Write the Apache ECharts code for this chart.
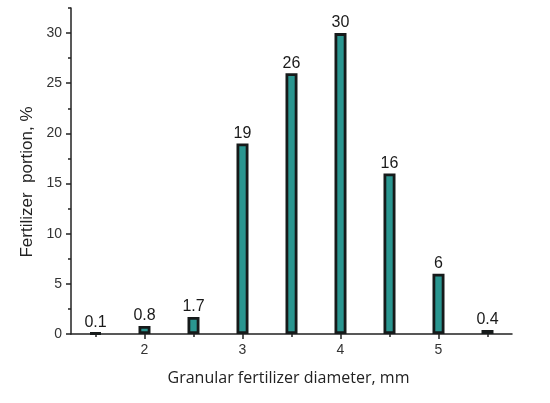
<!DOCTYPE html>
<html>
<head>
<meta charset="utf-8">
<script src="https://cdn.jsdelivr.net/npm/echarts@6/dist/echarts.min.js"></script>
<style>
  html, body { margin: 0; padding: 0; background: #fff; }
  #chart { width: 550px; height: 403px; }
</style>
</head>
<body>
<div id="chart"></div>
<script>
// diameter classes, mm
var diameters = [1.5, 2, 2.5, 3, 3.5, 4, 4.5, 5, 5.5];
// fertilizer portion, %
var portions = [0.1, 0.8, 1.7, 19, 26, 30, 16, 6, 0.4];
var xMajorTicks = [2, 3, 4, 5];
var xMinorTicks = [1.5, 2.5, 3.5, 4.5, 5.5];
var yMajorTicks = [0, 5, 10, 15, 20, 25, 30];
var yMinorTicks = [2.5, 7.5, 12.5, 17.5, 22.5, 27.5, 32.5];

var chart = echarts.init(document.getElementById("chart"));

var axisLine = { show: true, lineStyle: { color: "#222", width: 1.5 } };
var labelFont = { fontFamily: "Liberation Sans", fontSize: 14, color: "#333" };

var option = {
  animation: false,
  grid: { left: 71, right: 38, top: 8, bottom: 69 },
  xAxis: [
    {
      type: "value",
      min: 1.25,
      max: 5.75,
      axisLine: axisLine,
      splitLine: { show: false },
      axisTick: { show: true, length: 5, customValues: xMajorTicks, lineStyle: { color: "#222", width: 1.5 } },
      axisLabel: Object.assign({ customValues: xMajorTicks, margin: 9 }, labelFont),
      name: "Granular fertilizer diameter, mm",
      nameLocation: "middle",
      nameGap: 36,
      nameTextStyle: { fontFamily: "Open Sans", fontSize: 16, color: "#222", padding: [0, 6, 0, 0] }
    },
    {
      type: "value",
      min: 1.25,
      max: 5.75,
      position: "bottom",
      axisLine: { show: false },
      splitLine: { show: false },
      axisTick: { show: true, length: 3, customValues: xMinorTicks, lineStyle: { color: "#222", width: 1.5 } },
      axisLabel: { show: false }
    }
  ],
  yAxis: [
    {
      type: "value",
      min: 0,
      max: 32.5,
      axisLine: axisLine,
      splitLine: { show: false },
      axisTick: { show: true, length: 5, customValues: yMajorTicks, lineStyle: { color: "#222", width: 1.5 } },
      axisLabel: Object.assign({ customValues: yMajorTicks, margin: 9 }, labelFont),
      name: "Fertilizer  portion, %",
      nameLocation: "middle",
      nameGap: 32,
      nameTextStyle: { fontFamily: "Liberation Sans", fontSize: 17, color: "#222", padding: [0, 22, 0, 0] }
    },
    {
      type: "value",
      min: 0,
      max: 32.5,
      position: "left",
      axisLine: { show: false },
      splitLine: { show: false },
      axisTick: { show: true, length: 3, customValues: yMinorTicks, lineStyle: { color: "#222", width: 1.5 } },
      axisLabel: { show: false }
    }
  ],
  series: [
    {
      type: "bar",
      xAxisIndex: 0,
      yAxisIndex: 0,
      barWidth: 12,
      data: diameters.map(function (d, i) { return [d, portions[i]]; }),
      itemStyle: { color: "#2a9690", borderColor: "#161a1a", borderWidth: 2.8 },
      label: {
        show: true,
        position: "top",
        distance: 2,
        fontFamily: "Liberation Sans",
        fontSize: 16,
        color: "#1a1a1a",
        formatter: function (p) { return p.value[1]; }
      }
    }
  ]
};

chart.setOption(option);
</script>
</body>
</html>
